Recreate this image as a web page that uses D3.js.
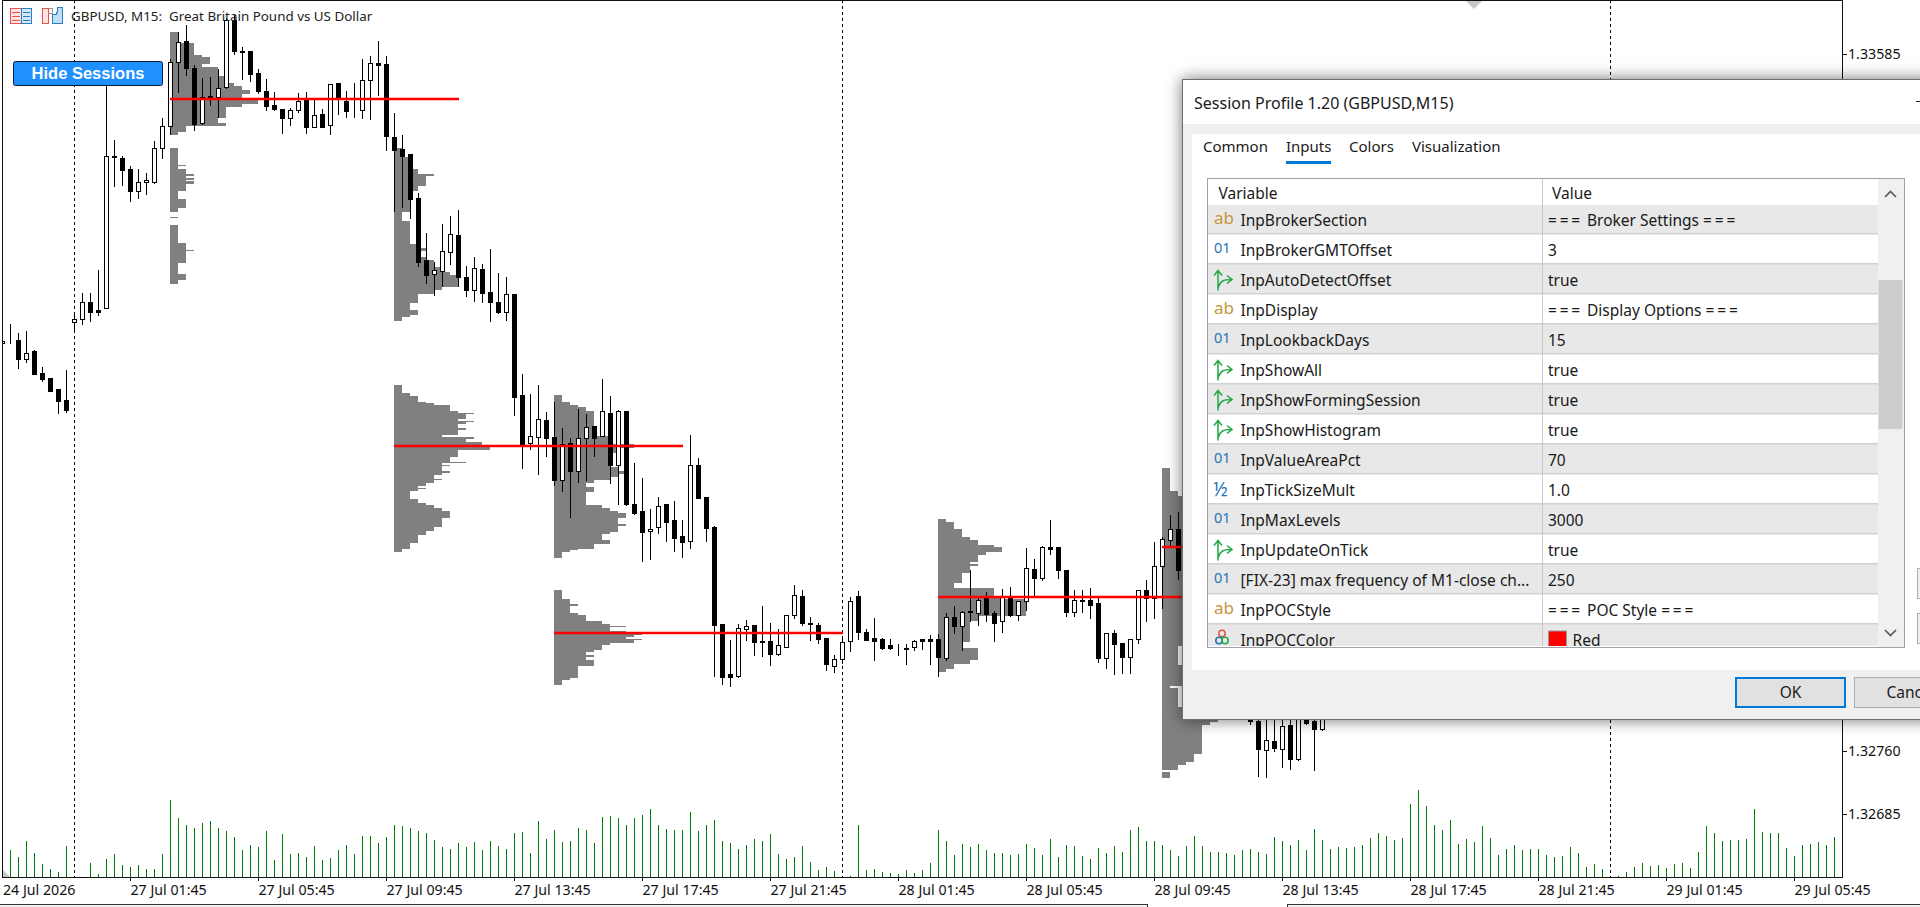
<!DOCTYPE html>
<html>
<head>
<meta charset="utf-8">
<script src="https://cdn.jsdelivr.net/npm/d3@7"></script>
<style>
html,body{margin:0;padding:0;background:#fff;overflow:hidden}
svg{display:block}
text{white-space:pre}
.ax text{font:14.2px "Noto Sans",sans-serif;fill:#111}
.dlg text{font:15.5px "Noto Sans",sans-serif;fill:#1a1a1a}
</style>
</head>
<body>
<svg id="c" width="1920" height="907"></svg>
<script>
// prices are in points above 1.32000, one entry per M15 bar, null = hidden behind the dialog
var opens = [1243,1245,1247,1224,1233,1207,1201,1188,1175,1268,1271,1292,1282,1284,1464,1462,1449,1423,1434,1434,
1474,1500,1576,1601,1569,1503,1536,1534,1546,1626,1589,1589,1563,1542,1525,1520,1510,1519,1531,1499,
1514,1501,1551,1530,1520,1519,1554,1575,1573,1487,1473,1467,1415,1341,1325,1328,1351,1371,1321,1306,
1331,1303,1292,1280,1301,1181,1124,1132,1152,1132,1081,1125,1091,1130,1145,1133,1160,1099,1162,1052,
1044,1020,1025,1052,1033,1014,1008,1099,1061,1025,910,851,849,904,909,890,890,875,883,921,
943,911,909,894,860,869,890,943,901,894,892,885,882,882,883,892,892,892,870,918,
908,926,923,941,923,914,942,921,938,975,965,1001,1001,974,925,939,939,935,870,899,
888,871,893,951,941,979,1010,1023,null,null,null,null,null,null,null,null,802,795,761,772,762,791,750,802,795,786];
var closes = [1245,1245,1224,1231,1206,1200,1186,1174,1164,1272,1291,1280,1280,1464,1463,1448,1423,1434,1436,1474,
1500,1576,1600,1569,1502,1534,1533,1545,1626,1589,1588,1562,1541,1524,1520,1509,1519,1529,1499,1513,
1499,1550,1532,1518,1520,1554,1574,1572,1488,1471,1465,1413,1339,1324,1330,1352,1372,1321,1306,1332,
1302,1291,1280,1301,1179,1122,1133,1153,1130,1081,1123,1091,1131,1144,1130,1162,1098,1162,1052,1042,
1019,1023,1050,1031,1012,1007,1099,1060,1024,909,848,848,905,908,889,889,875,885,921,944,
911,910,892,863,869,889,938,901,891,890,882,882,882,881,890,890,890,871,919,908,
924,924,939,922,912,942,921,938,976,965,1001,999,974,925,939,938,933,870,899,887,
871,893,950,941,979,1011,1023,974,null,null,null,null,null,null,null,null,795,762,773,763,790,750,815,793,786,811];
var highs = [1245,1267,1256,1258,1236,1216,1203,1188,1212,1281,1303,1303,1331,1576,1484,1466,1454,1450,1445,1483,
1511,1580,1612,1621,1573,1558,1559,1569,1629,1633,1595,1589,1569,1557,1541,1521,1523,1540,1541,1533,
1521,1551,1551,1543,1552,1581,1584,1602,1584,1516,1490,1467,1422,1374,1340,1385,1394,1402,1335,1346,
1338,1356,1327,1322,1302,1207,1184,1194,1162,1174,1143,1132,1166,1160,1145,1202,1182,1165,1163,1102,
1084,1048,1062,1053,1057,1035,1135,1108,1062,1028,912,892,911,916,910,933,913,906,922,958,
952,920,913,894,875,896,943,951,905,918,895,894,888,888,893,894,898,900,924,933,
927,975,945,949,927,953,955,939,1001,988,1004,1035,1002,974,952,952,954,945,900,904,
889,894,952,964,1009,1014,1041,1044,null,null,null,null,null,null,null,null,803,803,803,803,803,803,821,803,803,815];
var lows = [1243,1243,1213,1220,1206,1198,1186,1160,1161,1256,1266,1269,1276,1284,1429,1430,1411,1415,1420,1432,
1462,1490,1540,1560,1495,1502,1525,1511,1545,1585,1556,1553,1539,1519,1519,1492,1501,1516,1492,1499,
1499,1490,1514,1511,1511,1509,1508,1537,1471,1399,1404,1391,1334,1314,1300,1310,1336,1310,1299,1293,
1291,1269,1279,1270,1158,1095,1117,1088,1109,1075,1068,1037,1078,1081,1109,1133,1077,1052,1051,1040,
985,987,1018,1008,997,989,1000,1059,1008,849,839,837,847,891,873,872,862,874,883,917,
909,891,888,856,853,864,878,892,891,868,881,881,874,863,880,881,863,849,868,900,
879,914,909,914,890,901,920,915,927,944,962,993,965,920,920,925,917,865,858,851,
852,852,888,914,917,929,1004,964,null,null,null,null,null,null,null,null,792,730,729,760,741,739,749,792,737,785];

// tick volume for all 230 bars
var volumes = [0,81,60,108,72,39,24,15,93,0,0,42,9,54,69,36,30,36,24,24,
69,231,177,156,147,162,168,147,138,120,81,96,90,138,51,129,69,72,60,93,
51,57,81,96,69,123,123,102,120,156,153,147,138,132,111,90,84,102,90,105,
81,108,93,84,132,135,72,168,114,141,105,108,147,141,102,180,183,177,156,177,
186,204,156,144,141,141,195,138,156,171,108,102,84,96,114,108,129,69,54,60,
93,45,21,30,18,0,3,156,21,24,15,12,9,21,12,21,42,141,108,66,
99,90,99,81,72,72,66,69,99,87,66,114,60,96,93,63,54,87,72,93,
75,141,150,108,108,96,81,63,93,123,93,75,75,72,66,81,84,75,69,120,
108,96,111,81,144,111,84,90,87,90,96,117,132,123,111,117,219,261,213,156,
141,171,99,114,105,153,117,66,84,96,81,84,84,66,60,63,90,72,30,39,
24,0,3,15,30,42,33,36,27,39,42,27,75,153,132,108,111,111,114,204,
135,132,132,87,63,96,99,105,96,120];

var separators = [9,105,201];
var timeTicks = [16,32,48,64,80,96,112,128,144,160,176,192,208,224];
var timeLabels = ["27 Jul 01:45","27 Jul 05:45","27 Jul 09:45","27 Jul 13:45","27 Jul 17:45","27 Jul 21:45",
"28 Jul 01:45","28 Jul 05:45","28 Jul 09:45","28 Jul 13:45","28 Jul 17:45","28 Jul 21:45","29 Jul 01:45","29 Jul 05:45"];
var priceTicks = [1.33585,1.32760,1.32685];

// session profiles: [top, bottom, count] in points, count is how many bars traded that level
var sessionStarts = [21,49,69,117,145];
var sessionPocs = [1532,1122,900,943,1002];
var sessionBars = 36;
var profile0 = [[1612,1599,1],[1599,1585,3],[1585,1582,4],[1582,1574,5],[1574,1571,4],[1571,1560,6],[1560,1551,7],[1551,1548,8],[1548,1543,9],[1543,1539,10],[1539,1533,9],[1533,1527,11],[1527,1523,9],[1523,1510,7],[1510,1504,6],[1504,1500,7],[1500,1494,2],[1494,1490,1],
[1474,1454,1],[1454,1453,2],[1453,1450,1],[1450,1444,2],[1444,1441,3],[1441,1439,2],[1439,1437,3],[1437,1435,2],[1435,1432,3],[1432,1423,2],[1423,1414,1],[1414,1404,2],[1404,1399,1],
[1393,1392,1],[1383,1362,1],[1362,1354,2],[1354,1353,3],[1353,1338,2],[1338,1325,1],[1325,1318,2],[1318,1314,1]];
var profile1 = [[1474,1464,1],[1464,1450,2],[1450,1444,3],[1444,1441,5],[1441,1429,4],[1429,1423,3],[1423,1399,2],[1399,1388,1],[1388,1361,2],[1361,1356,3],[1356,1353,4],[1353,1346,3],[1346,1342,4],[1342,1334,5],[1334,1328,6],[1328,1324,7],[1324,1310,8],[1310,1306,6],[1306,1302,5],[1302,1291,3],[1291,1283,2],[1283,1277,3],[1277,1274,2],[1274,1270,1],
[1194,1184,1],[1184,1181,2],[1181,1174,3],[1174,1172,4],[1172,1170,5],[1170,1163,7],[1163,1161,8],[1161,1159,10],[1159,1154,9],[1154,1151,8],[1151,1150,10],[1150,1148,9],[1148,1143,8],[1143,1140,9],[1140,1135,8],[1135,1132,6],[1132,1130,10],[1130,1126,9],[1126,1122,11],[1122,1117,12],[1117,1108,8],[1108,1103,7],[1103,1102,9],[1102,1099,6],[1099,1098,7],[1098,1092,6],[1092,1090,7],[1090,1087,6],[1087,1082,5],[1082,1081,6],[1081,1078,5],[1078,1074,4],[1074,1072,3],[1072,1071,4],[1071,1068,3],[1068,1059,2],[1059,1054,3],[1054,1052,4],[1052,1048,5],[1048,1045,6],[1045,1036,7],[1036,1026,6],[1026,1021,5],[1021,1017,4],[1017,1016,4],[1016,1007,3],[1007,1000,2],[1000,996,1]];
var profile2 = [[1182,1174,1],[1174,1170,2],[1170,1168,3],[1168,1163,4],[1163,1133,5],[1133,1124,7],[1124,1119,10],[1119,1113,8],[1113,1097,7],[1097,1092,8],[1092,1089,9],[1089,1085,8],[1085,1081,7],[1081,1078,5],[1078,1073,4],[1073,1067,5],[1067,1052,4],[1052,1048,6],[1048,1045,7],[1045,1042,8],[1042,1036,9],[1036,1029,8],[1029,1027,9],[1027,1020,8],[1020,1017,7],[1017,1010,6],[1010,1006,7],[1006,1000,5],[1000,998,3],[998,996,2],[996,989,1],
[951,941,1],[941,934,2],[934,932,3],[932,924,2],[924,922,3],[922,914,4],[914,911,6],[911,908,7],[908,907,9],[907,903,7],[903,900,9],[900,898,11],[898,896,10],[896,893,9],[893,892,11],[892,888,10],[888,886,7],[886,880,6],[880,878,5],[878,874,4],[874,872,5],[872,868,4],[868,861,5],[861,847,3],[847,845,2],[845,838,1]];
var profile3 = [[1035,1032,1],[1032,1023,2],[1023,1014,3],[1014,1010,4],[1010,1004,5],[1004,1002,7],[1002,996,8],[996,992,6],[992,984,5],[984,982,4],[982,979,5],[979,971,4],[971,959,3],[959,953,2],[953,943,7],[943,941,8],[941,920,11],[920,914,5],[914,890,4],[890,882,3],[882,868,5],[868,864,4],[864,858,2],[858,854,1]];
var profile4 = [[1096,1068,1],[1068,1062,2],[1062,890,4],[889,885,4],[885,862,2],[862,837,4],[837,835,1],[835,813,2],[813,798,4],[798,795,7],[795,791,6],[791,757,5],[757,748,4],[748,744,3],[744,738,2],[735,728,1]];
var profiles = [profile0,profile1,profile2,profile3,profile4];

// dialog contents
var inputNames = ["InpBrokerSection","InpBrokerGMTOffset","InpAutoDetectOffset","InpDisplay","InpLookbackDays","InpShowAll","InpShowFormingSession","InpShowHistogram","InpValueAreaPct","InpTickSizeMult","InpMaxLevels","InpUpdateOnTick","[FIX-23] max frequency of M1-close ch...","InpPOCStyle","InpPOCColor"];
var inputValues = ["=== Broker Settings ===","3","true","=== Display Options ===","15","true","true","true","70","1.0","3000","true","250","=== POC Style ===","Red"];
var inputKinds = ["s","i","b","s","i","b","b","b","i","d","i","b","i","s","c"];
var tabNames = ["Common","Inputs","Colors","Visualization"];
var tabLefts = [1203,1286,1349,1412];

var svg = d3.select("#c");
var price = function(p){ return 1.32 + p/100000; };

var x = d3.scaleLinear().domain([0,230]).range([2.5,1842.5]);
var y = d3.scaleLinear().domain([1.32685,1.33585]).range([814.7,54.7]);
var yv = d3.scaleLinear().domain([0,300]).range([877,777]);
var snap = function(v){ return Math.round(v-0.5)+0.5; };

svg.append("defs").append("clipPath").attr("id","plot").append("rect")
  .attr("x",2).attr("y",0).attr("width",1840).attr("height",877);
svg.select("defs").append("clipPath").attr("id","grid").append("rect")
  .attr("x",1208).attr("y",179).attr("width",696).attr("height",467);

var plot = svg.append("g").attr("clip-path","url(#plot)");

// session histograms sit under the candles
profiles.forEach(function(levels,s){
  plot.append("g").attr("fill","#808080").attr("shape-rendering","crispEdges")
    .selectAll("rect").data(levels).enter().append("rect")
    .attr("x",x(sessionStarts[s])-0.5)
    .attr("width",function(d){return d[2]*8;})
    .attr("y",function(d){return Math.round(y(price(d[0])));})
    .attr("height",function(d){return Math.max(1,Math.round(y(price(d[1])))-Math.round(y(price(d[0]))));});
});

// period separators
plot.selectAll("line.sep").data(separators).enter().append("line").attr("class","sep")
  .attr("x1",x).attr("x2",x).attr("y1",0).attr("y2",877)
  .attr("stroke","#000").attr("stroke-dasharray","3,3").attr("shape-rendering","crispEdges");

// volumes
plot.selectAll("line.vol").data(volumes).enter().append("line").attr("class","vol")
  .attr("x1",function(d,i){return x(i);}).attr("x2",function(d,i){return x(i);})
  .attr("y1",877).attr("y2",function(d){return yv(d);})
  .attr("stroke","#008000").attr("shape-rendering","crispEdges");

// candles
var bars = d3.range(opens.length).filter(function(i){return opens[i]!==null;});
var candle = plot.append("g").attr("shape-rendering","crispEdges");
candle.selectAll("line").data(bars).enter().append("line")
  .attr("x1",x).attr("x2",x)
  .attr("y1",function(i){return snap(y(price(highs[i])));})
  .attr("y2",function(i){return snap(y(price(lows[i])));})
  .attr("stroke","#000");
candle.selectAll("rect").data(bars).enter().append("rect")
  .attr("x",function(i){return x(i)-2;}).attr("width",4)
  .attr("y",function(i){return snap(y(price(Math.max(opens[i],closes[i]))));})
  .attr("height",function(i){return Math.abs(snap(y(price(opens[i])))-snap(y(price(closes[i]))));})
  .attr("fill",function(i){return closes[i]>=opens[i]?"#fff":"#000";})
  .attr("stroke","#000");

// POC lines
plot.selectAll("line.poc").data(sessionStarts).enter().append("line").attr("class","poc")
  .attr("x1",function(d){return x(d)-0.5;}).attr("x2",function(d){return x(d+sessionBars)+0.5;})
  .attr("y1",function(d,i){return Math.round(y(price(sessionPocs[i])));})
  .attr("y2",function(d,i){return Math.round(y(price(sessionPocs[i])));})
  .attr("stroke","#f00").attr("stroke-width",2.6);

// chart frame
svg.append("rect").attr("x",2.5).attr("y",0.5).attr("width",1840).attr("height",876.5)
  .attr("fill","none").attr("stroke","#111").attr("shape-rendering","crispEdges");

// corner markers
svg.append("path").attr("d","M3,870L3,877L10,877Z").attr("fill","#c4c4c4");
svg.append("path").attr("d","M1466,1L1482,1L1474,9Z").attr("fill","#c8c8c8");

// axes
var xAxis = d3.axisBottom(x).tickValues(timeTicks).tickSize(4).offset(0)
  .tickFormat(function(d,i){return timeLabels[i];});
var gx = svg.append("g").attr("class","ax").attr("transform","translate(0,877)").call(xAxis);
gx.select(".domain").remove();
gx.selectAll("line").attr("stroke","#111").attr("shape-rendering","crispEdges");
gx.selectAll("text").attr("text-anchor","start").attr("y",18).attr("dy",0);
gx.append("text").attr("x",3).attr("y",18).attr("text-anchor","start").text("24 Jul 2026");

var yAxis = d3.axisRight(y).tickValues(priceTicks).tickSize(4).offset(0).tickFormat(d3.format(".5f"));
var gy = svg.append("g").attr("class","ax").attr("transform","translate(1842.5,0)").call(yAxis);
gy.select(".domain").remove();
gy.selectAll("line").attr("stroke","#111").attr("shape-rendering","crispEdges");
gy.selectAll("text").attr("x",5.5);

// window chrome at the bottom
svg.append("rect").attr("x",0).attr("y",905).attr("width",1148).attr("height",2).attr("fill","#f0f0f0");
svg.append("rect").attr("x",1287).attr("y",905).attr("width",633).attr("height",2).attr("fill","#f0f0f0");
svg.append("path").attr("d","M0,904.5H1147.5V907M1287.5,907V904.5H1920").attr("fill","none").attr("stroke","#333").attr("shape-rendering","crispEdges");

// chart title and the two toolbar icons
svg.append("text").attr("x",71).attr("y",21).attr("class","ax")
  .style("font",'13.4px "Noto Sans",sans-serif').style("fill","#222")
  .text("GBPUSD, M15:  Great Britain Pound vs US Dollar");
var ico = svg.append("g").attr("shape-rendering","crispEdges");
ico.append("rect").attr("x",10.5).attr("y",8.5).attr("width",11).attr("height",15).attr("fill","#fde3e3").attr("stroke","#e5534b");
ico.append("rect").attr("x",21.5).attr("y",8.5).attr("width",10).attr("height",15).attr("fill","#d3e8f7").attr("stroke","#2b7cc0");
[12,16,20].forEach(function(v){
  ico.append("path").attr("d","M12,"+v+".5H20").attr("stroke","#e5534b");
  ico.append("path").attr("d","M23,"+v+".5H30").attr("stroke","#2b7cc0");
});
ico.append("path").attr("d","M42.5,8.5H48.5V23.5H42.5Z").attr("fill","#fde3e3").attr("stroke","#e5534b");
ico.append("path").attr("d","M48.5,13.5H52.5V8.5H48.5").attr("fill","#fff").attr("stroke","#999");
ico.append("path").attr("d","M56.5,12.5H57.5V7.5H62.5V23.5H52.5V14.5H56.5Z").attr("fill","#bfdff5").attr("stroke","#2b7cc0");

// Hide Sessions button
svg.append("rect").attr("x",13.5).attr("y",61.5).attr("width",149).attr("height",24)
  .attr("fill","#1e90ff").attr("stroke","#0b1a33").attr("rx",2);
svg.append("text").attr("x",88).attr("y",79).attr("text-anchor","middle")
  .style("font",'bold 16.5px "Liberation Sans",Arial,sans-serif').attr("fill","#fff").text("Hide Sessions");

// properties dialog
var dlg = svg.append("g").attr("class","dlg");
var shell = dlg.append("g").style("filter","drop-shadow(0 0 8px rgba(0,0,0,.55))");
shell.append("rect").attr("x",1182.5).attr("y",79.5).attr("width",780).attr("height",640)
  .attr("fill","#f0f0f0").attr("stroke","#6e6e6e").attr("shape-rendering","crispEdges");
dlg.append("rect").attr("x",1183).attr("y",80).attr("width",737).attr("height",44).attr("fill","#fff");
dlg.append("rect").attr("x",1192).attr("y",134).attr("width",728).attr("height",536).attr("fill","#fff");
dlg.append("text").attr("x",1194).attr("y",109).style("font-size","16px").text("Session Profile 1.20 (GBPUSD,M15)");
dlg.append("path").attr("d","M1916,101.5H1920").attr("stroke","#222");

dlg.selectAll("text.tab").data(tabNames).enter().append("text").attr("class","tab")
  .attr("x",function(d,i){return tabLefts[i];}).attr("y",152).style("font-size","15px").text(function(d){return d;});
dlg.append("rect").attr("x",1286).attr("y",161).attr("width",45).attr("height",3).attr("fill","#0078d7");

var grid = dlg.append("g").attr("clip-path","url(#grid)");
var rowTop = function(i){ return 204.5+30*i; };
var rows = grid.selectAll("g.row").data(inputNames).enter().append("g").attr("class","row")
  .attr("transform",function(d,i){return "translate(0,"+rowTop(i)+")";});
rows.append("rect").attr("x",1208).attr("width",670).attr("height",30)
  .attr("fill",function(d,i){return i%2?"#fff":"#e8e8e8";});
rows.append("rect").attr("x",1208).attr("y",28.5).attr("width",670).attr("height",2).attr("fill","#d0d0d0");
rows.append("text").attr("x",1240.5).attr("y",21).text(function(d){return d;});
rows.append("text").attr("x",function(d,i){return inputKinds[i]=="c"?1572.5:1548;}).attr("y",21)
  .each(function(d,i){
    var t = d3.select(this), v = inputValues[i];
    if(inputKinds[i]=="s"){
      // the section rows have wide equals signs in the original font
      t.append("tspan").style("letter-spacing","2.8px").text("===");
      t.append("tspan").text(" "+v.slice(4,-4)+" ");
      t.append("tspan").style("letter-spacing","2.8px").text("===");
    } else t.text(v);
  });

// type icons in front of each name
rows.each(function(d,i){
  var g = d3.select(this), k = inputKinds[i];
  if(k=="s") g.append("text").attr("x",1214).attr("y",19).style("font",'17px "Noto Sans",sans-serif').style("fill","#c8963c").text("ab");
  if(k=="i") g.append("text").attr("x",1214).attr("y",18).style("font",'14.5px "Noto Sans",sans-serif').style("fill","#1f74b8").text("01");
  if(k=="d") g.append("text").attr("x",1213).attr("y",21).style("font",'19px "Noto Sans",sans-serif').style("fill","#1f74b8").text("½");
  if(k=="b") g.append("path").attr("d","M1218,26V6M1214,11L1218,6L1222,11M1218,24C1220,16 1224,15 1231,15M1227,11L1232,15L1227,19")
    .attr("fill","none").attr("stroke","#22a845").attr("stroke-width",1.5);
  if(k=="c"){
    [[1222,9,"#e5534b"],[1219,16,"#1f74b8"],[1225,16,"#22a845"]].forEach(function(c){
      g.append("circle").attr("cx",c[0]).attr("cy",c[1]).attr("r",3.2).attr("fill","none").attr("stroke",c[2]).attr("stroke-width",1.5);
    });
    g.append("rect").attr("x",1548.5).attr("y",6.5).attr("width",18).attr("height",18).attr("fill","#f00").attr("stroke","#999");
  }
});

// header, scrollbar and frame of the grid
dlg.append("rect").attr("x",1208).attr("y",179).attr("width",670).attr("height",26).attr("fill","#fff");
dlg.append("text").attr("x",1218.5).attr("y",199).text("Variable");
dlg.append("text").attr("x",1552).attr("y",199).text("Value");
dlg.append("path").attr("d","M1542.5,179V646").attr("stroke","#c8c8c8").attr("shape-rendering","crispEdges");
dlg.append("rect").attr("x",1878).attr("y",179).attr("width",26).attr("height",468).attr("fill","#f0f0f0");
dlg.append("rect").attr("x",1878.5).attr("y",280).attr("width",24).attr("height",149).attr("fill","#cdcdcd");
dlg.append("path").attr("d","M1885,197L1890.5,191.5L1896,197M1885,630L1890.5,635.5L1896,630").attr("fill","none").attr("stroke","#555").attr("stroke-width",1.6);
dlg.append("rect").attr("x",1207.5).attr("y",178.5).attr("width",697).attr("height",469).attr("fill","none").attr("stroke","#a0a0a8").attr("shape-rendering","crispEdges");

// side buttons peeking in at the right edge
dlg.append("rect").attr("x",1917.5).attr("y",568.5).attr("width",8).attr("height",30).attr("fill","#f0f0f0").attr("stroke","#adadad");
dlg.append("rect").attr("x",1917.5).attr("y",613.5).attr("width",8).attr("height",30).attr("fill","#f0f0f0").attr("stroke","#adadad");

// OK / Cancel
dlg.append("rect").attr("x",1736).attr("y",678).attr("width",109).attr("height",29).attr("fill","#e1e1e1").attr("stroke","#0078d7").attr("stroke-width",2).attr("shape-rendering","crispEdges");
dlg.append("text").attr("x",1790.5).attr("y",698).attr("text-anchor","middle").text("OK");
dlg.append("rect").attr("x",1854.5).attr("y",677.5).attr("width",100).attr("height",30).attr("fill","#e1e1e1").attr("stroke","#adadad").attr("shape-rendering","crispEdges");
dlg.append("text").attr("x",1886.5).attr("y",698).text("Cancel");
</script>
</body>
</html>
